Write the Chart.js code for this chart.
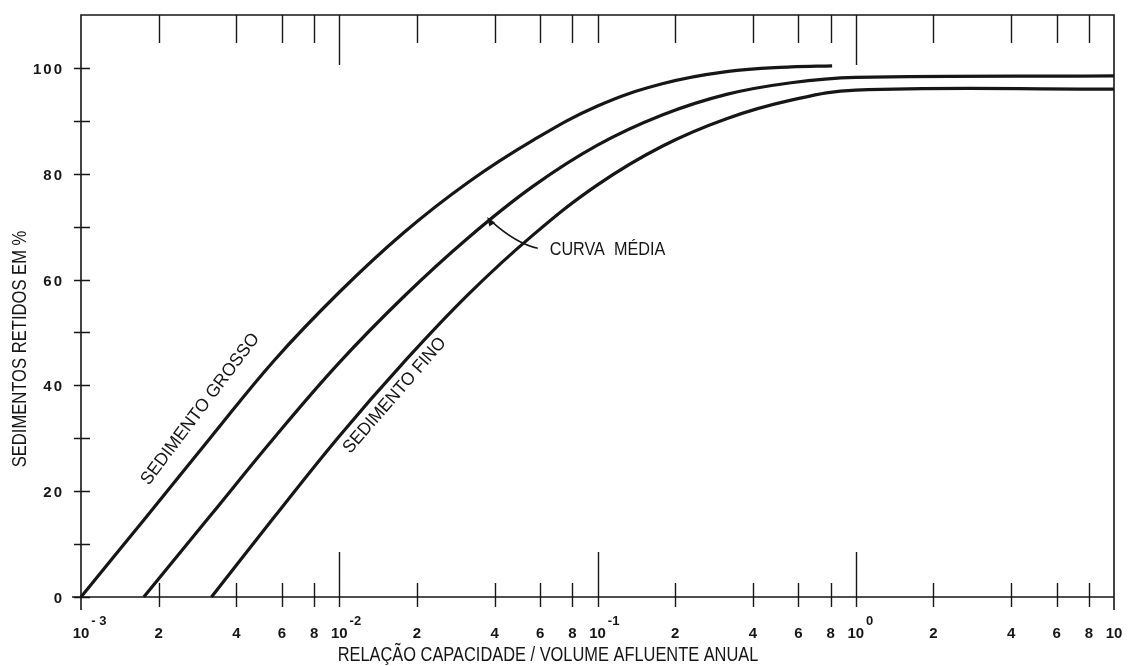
<!DOCTYPE html>
<html>
<head>
<meta charset="utf-8">
<script src="https://cdn.jsdelivr.net/npm/chart.js@4"></script>
<style>
  body { margin: 0; background: #fff; }
  canvas { display: block; }
</style>
</head>
<body>
<canvas id="brune" width="1133" height="666"></canvas>
<script>
// curves at quarter-decade steps
// (x = capacidade / volume afluente anual, y = % retido)
const grossoX = [0.001, 0.00178, 0.00316, 0.00562, 0.01, 0.0178, 0.0316, 0.0562, 0.1, 0.178, 0.316, 0.562, 0.81];
const grossoY = [0, 15, 30, 44.8, 57.6, 68.9, 78.4, 86.3, 92.8, 97, 99.3, 100.2, 100.4];

const mediaX = [0.00175, 0.00316, 0.00562, 0.01, 0.0178, 0.0316, 0.0562, 0.1, 0.178, 0.316, 0.562, 1, 10];
const mediaY = [0, 15.3, 30.2, 44.3, 56.8, 67.9, 77.6, 85.4, 91.1, 95, 97.2, 98.2, 98.5];

const finoX = [0.0032, 0.00562, 0.01, 0.0178, 0.0316, 0.0562, 0.1, 0.178, 0.316, 0.562, 1, 10];
const finoY = [0, 15.2, 30.4, 44.4, 57.2, 68.4, 77.9, 85.2, 90.4, 93.9, 95.8, 96];

// axis ticks
const xTickValues = [0.001, 0.002, 0.004, 0.006, 0.008, 0.01, 0.02, 0.04, 0.06, 0.08, 0.1,
                     0.2, 0.4, 0.6, 0.8, 1, 2, 4, 6, 8, 10];
const xTickBase = ['10', '2', '4', '6', '8', '10', '2', '4', '6', '8', '10',
                   '2', '4', '6', '8', '10', '2', '4', '6', '8', '10'];
const xTickExp = ['- 3', '', '', '', '', '-2', '', '', '', '', '-1',
                  '', '', '', '', '0', '', '', '', '', ''];
const xDecades = [0.01, 0.1, 1];
const yTickValues = [0, 10, 20, 30, 40, 50, 60, 70, 80, 90, 100];
const yTickLabels = ['0', '', '20', '', '40', '', '60', '', '80', '', '100'];

const ink = '#161616';

function pts(xs, ys) {
    return xs.map((x, i) => ({ x: x, y: ys[i] }));
}

function squeezedText(ctx, text, x, y, angle, sx, font, align) {
    ctx.save();
    ctx.translate(x, y);
    ctx.rotate(angle);
    ctx.scale(sx, 1);
    ctx.font = font;
    ctx.textAlign = align || 'center';
    ctx.textBaseline = 'middle';
    ctx.fillText(text, 0, 0);
    ctx.restore();
}

const paperAxes = {
    id: 'paperAxes',
    beforeDatasetsDraw(chart) {
        const ctx = chart.ctx;
        const { left, right, top } = chart.chartArea;
        const xs = chart.scales.x;
        const ys = chart.scales.y;
        const y0 = ys.getPixelForValue(0);

        ctx.save();
        ctx.strokeStyle = ink;
        ctx.lineWidth = 1.6;
        ctx.beginPath();
        ctx.moveTo(left, y0 + 13);
        ctx.lineTo(left, top);
        ctx.lineTo(right, top);
        ctx.lineTo(right, y0 + 13);
        ctx.moveTo(left - 9, y0);
        ctx.lineTo(right, y0);
        ctx.stroke();

        ctx.lineWidth = 1.4;
        ctx.beginPath();
        xTickValues.forEach((v) => {
            if (v === 0.001 || v === 10) return;
            const px = Math.round(xs.getPixelForValue(v)) + 0.5;
            const big = xDecades.includes(v);
            ctx.moveTo(px, y0 - (big ? 45 : 14));
            ctx.lineTo(px, y0 + 10);
            ctx.moveTo(px, top);
            ctx.lineTo(px, top + (big && v !== 0.1 ? 50 : 28));
        });
        yTickValues.forEach((v) => {
            const py = Math.round(ys.getPixelForValue(v)) + 0.5;
            ctx.moveTo(left - 7, py);
            ctx.lineTo(left + 9, py);
        });
        ctx.stroke();

        // tick labels
        ctx.fillStyle = ink;
        ctx.textBaseline = 'alphabetic';
        xTickValues.forEach((v, i) => {
            const px = xs.getPixelForValue(v);
            ctx.font = 'bold 15px "Liberation Sans"';
            ctx.textAlign = 'center';
            ctx.fillText(xTickBase[i], px, 638);
            if (xTickExp[i]) {
                const w = ctx.measureText(xTickBase[i]).width;
                ctx.font = 'bold 13px "Liberation Sans"';
                ctx.textAlign = 'left';
                ctx.fillText(xTickExp[i], px + w / 2 + 2, 625);
            }
        });
        ctx.font = 'bold 15px "Liberation Sans"';
        ctx.textAlign = 'right';
        ctx.letterSpacing = '2px';
        yTickValues.forEach((v, i) => {
            if (!yTickLabels[i]) return;
            ctx.fillText(yTickLabels[i], 64, ys.getPixelForValue(v) + 6);
        });
        ctx.letterSpacing = '0px';

        // axis titles
        squeezedText(ctx, 'RELAÇÃO CAPACIDADE / VOLUME AFLUENTE ANUAL', 548, 655, 0, 0.82,
            '20px "Liberation Sans"');
        squeezedText(ctx, 'SEDIMENTOS RETIDOS EM %', 20, 349, -Math.PI / 2, 0.83,
            '20px "Liberation Sans"');
        ctx.restore();
    },
    afterDatasetsDraw(chart) {
        const ctx = chart.ctx;
        const xs = chart.scales.x;
        const ys = chart.scales.y;
        ctx.save();
        ctx.fillStyle = ink;
        ctx.strokeStyle = ink;

        squeezedText(ctx, 'SEDIMENTO GROSSO', xs.getPixelForValue(0.0029), ys.getPixelForValue(35.5),
            -53 * Math.PI / 180, 0.97, '18px "Liberation Sans"');
        squeezedText(ctx, 'SEDIMENTO FINO', xs.getPixelForValue(0.0164), ys.getPixelForValue(38.1),
            -49 * Math.PI / 180, 0.95, '18px "Liberation Sans"');
        squeezedText(ctx, 'CURVA  MÉDIA', xs.getPixelForValue(0.0653), ys.getPixelForValue(65.5),
            0, 0.9, '18px "Liberation Sans"', 'left');

        // arrow to the middle curve
        const tx = xs.getPixelForValue(0.0374), ty = ys.getPixelForValue(71.8);
        const ex = xs.getPixelForValue(0.0587), ey = ys.getPixelForValue(65.9);
        ctx.lineWidth = 1.6;
        ctx.beginPath();
        ctx.moveTo(ex, ey);
        ctx.quadraticCurveTo(ex - 22, ey - 5, tx + 4, ty + 4);
        ctx.stroke();
        const a = Math.atan2(-9, -6);
        ctx.beginPath();
        ctx.moveTo(tx, ty);
        ctx.lineTo(tx - 9 * Math.cos(a) - 3.5 * Math.sin(a), ty - 9 * Math.sin(a) + 3.5 * Math.cos(a));
        ctx.lineTo(tx - 9 * Math.cos(a) + 3.5 * Math.sin(a), ty - 9 * Math.sin(a) - 3.5 * Math.cos(a));
        ctx.closePath();
        ctx.fill();
        ctx.restore();
    }
};

const curveStyle = {
    borderColor: ink,
    borderWidth: 3.2,
    pointRadius: 0,
    fill: false,
    tension: 0.4,
    clip: false
};

new Chart(document.getElementById('brune'), {
    type: 'line',
    data: {
        datasets: [
            Object.assign({ label: 'Sedimento grosso', data: pts(grossoX, grossoY) }, curveStyle),
            Object.assign({ label: 'Curva média', data: pts(mediaX, mediaY) }, curveStyle),
            Object.assign({ label: 'Sedimento fino', data: pts(finoX, finoY) }, curveStyle)
        ]
    },
    options: {
        responsive: false,
        animation: false,
        devicePixelRatio: 1,
        layout: { padding: { left: 81, right: 19, top: 15, bottom: 69 } },
        plugins: { legend: { display: false }, tooltip: { enabled: false } },
        scales: {
            x: { type: 'logarithmic', min: 0.001, max: 10, display: false },
            y: { type: 'linear', min: 0, max: 110, display: false }
        }
    },
    plugins: [paperAxes]
});
</script>
</body>
</html>
